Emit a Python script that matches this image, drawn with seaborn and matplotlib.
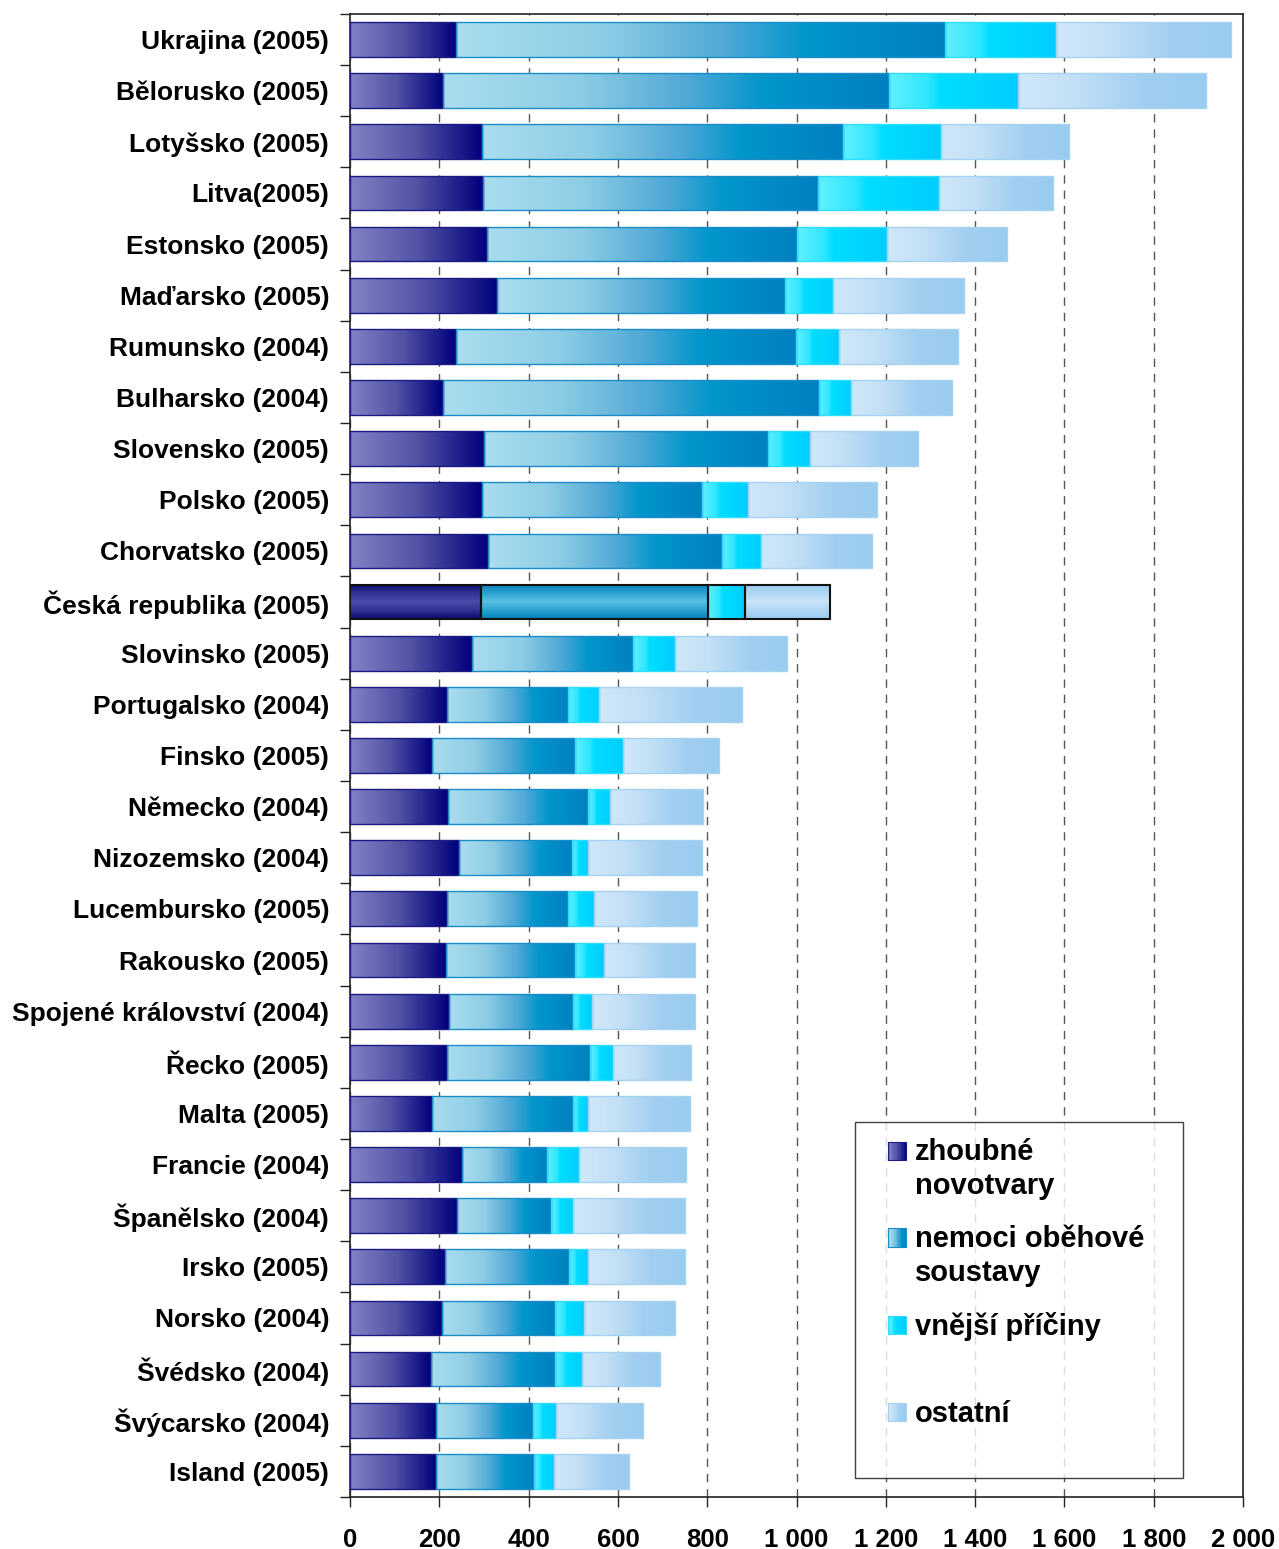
import numpy as np
import pandas as pd
import matplotlib
matplotlib.use("Agg")
import matplotlib.pyplot as plt
import seaborn as sns
from matplotlib.colors import LinearSegmentedColormap
from matplotlib.legend_handler import HandlerBase
from matplotlib.patches import Rectangle, Patch
from matplotlib.ticker import FixedLocator

# ---------------- data ----------------
categories = [
    "Ukrajina (2005)", "Bělorusko (2005)", "Lotyšsko (2005)", "Litva(2005)",
    "Estonsko (2005)", "Maďarsko (2005)", "Rumunsko (2004)", "Bulharsko (2004)",
    "Slovensko (2005)", "Polsko (2005)", "Chorvatsko (2005)", "Česká republika (2005)",
    "Slovinsko (2005)", "Portugalsko (2004)", "Finsko (2005)", "Německo (2004)",
    "Nizozemsko (2004)", "Lucembursko (2005)", "Rakousko (2005)",
    "Spojené království (2004)", "Řecko (2005)", "Malta (2005)", "Francie (2004)",
    "Španělsko (2004)", "Irsko (2005)", "Norsko (2004)", "Švédsko (2004)",
    "Švýcarsko (2004)", "Island (2005)",
]
zhoubne = [238, 209, 296, 297, 307, 330, 237, 208, 301, 295, 308, 294, 272, 216, 183,
           219, 243, 216, 214, 221, 217, 183, 251, 239, 213, 207, 181, 193, 193]
obehove = [1095, 999, 807, 752, 693, 644, 762, 842, 635, 493, 525, 508, 361, 271, 320,
           315, 253, 271, 289, 279, 321, 317, 189, 210, 277, 253, 277, 216, 219]
vnejsi = [249, 287, 221, 271, 203, 108, 96, 72, 94, 103, 87, 82, 94, 70, 108,
          48, 36, 60, 66, 41, 52, 34, 72, 51, 44, 65, 62, 53, 44]
ostatni = [390, 423, 287, 255, 269, 293, 266, 227, 242, 289, 250, 192, 251, 320, 216,
           209, 257, 230, 204, 232, 174, 227, 241, 250, 216, 203, 174, 194, 169]
series_names = ["zhoubné\nnovotvary", "nemoci oběhové\nsoustavy", "vnější příčiny\n ", "ostatní\n "]
highlight = "Česká republika (2005)"
xticks = [0, 200, 400, 600, 800, 1000, 1200, 1400, 1600, 1800, 2000]
xticklabels = ["0", "200", "400", "600", "800", "1 000", "1 200", "1 400", "1 600", "1 800", "2 000"]

# ---------------- styles ----------------
grad_h = [
    [(0, "#8282C6"), (0.5, "#5252A6"), (1, "#00007C")],
    [(0, "#A9DDEE"), (0.3, "#8ECDE5"), (0.55, "#4FA8D6"), (0.72, "#0096CC"), (1, "#0080C0")],
    [(0, "#62F0FF"), (0.3, "#30E6FF"), (0.4, "#00DDFF"), (1, "#00CCFF")],
    [(0, "#D0E7F9"), (0.3, "#C3E0F6"), (0.65, "#A2CFF1"), (1, "#99CCF0")],
]
grad_v_cz = [
    [(0, "#08086C"), (0.2, "#2C2C8E"), (0.5, "#4B4BAA"), (0.8, "#2C2C8E"), (1, "#08086C")],
    [(0, "#0082BE"), (0.5, "#58C2E5"), (1, "#0082BE")],
    None,
    [(0, "#96CAF0"), (0.5, "#C9E4F8"), (1, "#96CAF0")],
]
edge_cols = ["#1A1A82", "#1A8CC8", "#30DDFF", "#A6D2F2"]

sns.set_theme(style="white")
plt.rcParams["font.family"] = ["Liberation Sans", "DejaVu Sans"]
plt.rcParams["text.color"] = "black"
plt.rcParams["xtick.color"] = "black"
plt.rcParams["ytick.color"] = "black"
plt.rcParams["axes.labelcolor"] = "black"

fig = plt.figure(figsize=(12.79, 15.49), dpi=100)
ax = fig.add_axes([0.2737, 0.0336, 0.6982, 0.9574])

values = [zhoubne, obehove, vnejsi, ostatni]
cum = np.zeros(len(categories))
for s, vals in enumerate(values):
    vals = np.asarray(vals, dtype=float)
    prev = cum.copy()
    cum = cum + vals
    n_before = len(ax.patches)
    sns.barplot(x=cum, y=categories, order=categories, orient="h", width=0.68,
                color=grad_h[s][-1][1], ax=ax, saturation=1)
    new_patches = ax.patches[n_before:]
    for p in new_patches:
        i = int(round(p.get_y() + p.get_height() / 2))
        p.set_x(prev[i])
        p.set_width(vals[i])
        y0, h = p.get_y(), p.get_height()
        is_cz = categories[i] == highlight
        if is_cz and grad_v_cz[s] is not None:
            cmap = LinearSegmentedColormap.from_list("g", grad_v_cz[s])
            arr = cmap(np.linspace(0, 1, 128))[:, None, :3]
        else:
            cmap = LinearSegmentedColormap.from_list("g", grad_h[s])
            arr = cmap(np.linspace(0, 1, 256))[None, :, :3]
        im = ax.imshow(arr, extent=[prev[i], prev[i] + vals[i], y0 + h, y0],
                       aspect="auto", interpolation="bilinear", zorder=2)
        im.set_clip_path(p)
        p.set_facecolor("none")
        p.set_zorder(3)
        if is_cz:
            p.set_edgecolor("#111111")
            p.set_linewidth(1.5)
        else:
            p.set_edgecolor(edge_cols[s])
            p.set_linewidth(1.0)

ax.set_xlim(0, 2000)
ax.set_ylim(len(categories) - 0.5, -0.5)
ax.set_xlabel("")
ax.set_ylabel("")

# grid
ax.set_axisbelow(True)
ax.xaxis.set_major_locator(FixedLocator(xticks))
ax.set_xticklabels(xticklabels)
ax.grid(axis="x", which="major", linestyle=(0, (6, 5)), color="#555555", linewidth=1.0, zorder=0)
ax.grid(axis="y", visible=False)

for sp in ax.spines.values():
    sp.set_visible(True)
    sp.set_color("#222222")
    sp.set_linewidth(1.2)

ax.tick_params(axis="x", which="major", direction="out", length=7, width=1, color="#222222",
               pad=15, bottom=True)
for lab in ax.get_xticklabels():
    lab.set_fontfamily(["Liberation Sans Narrow", "Liberation Sans", "DejaVu Sans"])
    lab.set_fontsize(18.5)
    lab.set_fontweight("bold")
    lab.set_color("black")

ax.tick_params(axis="y", which="major", length=0, pad=15)
ax.yaxis.set_minor_locator(FixedLocator(np.arange(-0.5, len(categories), 1.0)))
ax.tick_params(axis="y", which="minor", direction="out", length=7, width=1, color="#222222", left=True)
for lab in ax.get_yticklabels():
    lab.set_fontsize(19)
    lab.set_fontweight("bold")
    lab.set_color("black")


# legend
class GradHandler(HandlerBase):
    def __init__(self, stops, edge):
        super().__init__()
        self.stops = stops
        self.edge = edge

    def create_artists(self, legend, orig_handle, xdescent, ydescent, width, height, fontsize, trans):
        cmap = LinearSegmentedColormap.from_list("g", self.stops)
        sq = 0.62 * fontsize
        x1 = -xdescent + width
        x0 = x1 - sq
        yc = -ydescent + height / 2 + 0.66 * fontsize
        n = 14
        arts = []
        for k in range(n):
            arts.append(Rectangle((x0 + k * sq / n, yc - sq / 2), sq / n * 1.1, sq,
                                  facecolor=cmap((k + 0.5) / n), edgecolor="none", transform=trans))
        arts.append(Rectangle((x0, yc - sq / 2), sq, sq, fill=False, edgecolor=self.edge,
                              linewidth=0.8, transform=trans))
        return arts


handles = [Patch(label=n) for n in series_names]
hmap = {h: GradHandler(grad_h[k], edge_cols[k]) for k, h in enumerate(handles)}
leg = ax.legend(handles=handles, labels=series_names, handler_map=hmap,
                loc="upper left", bbox_to_anchor=(0.5655, 0.2529, 0.3673, 0.0), mode="expand",
                prop={"size": 21, "weight": "bold"}, frameon=True, fancybox=False,
                borderpad=0.55, labelspacing=0.85, handlelength=1.2, handletextpad=0.3,
                borderaxespad=0)
leg.get_frame().set_edgecolor("#111111")
leg.get_frame().set_linewidth(1.0)
leg.set_zorder(10)
for t in leg.get_texts():
    t.set_color("black")
    t.set_linespacing(1.28)

fig.savefig("out.png", dpi=100)
